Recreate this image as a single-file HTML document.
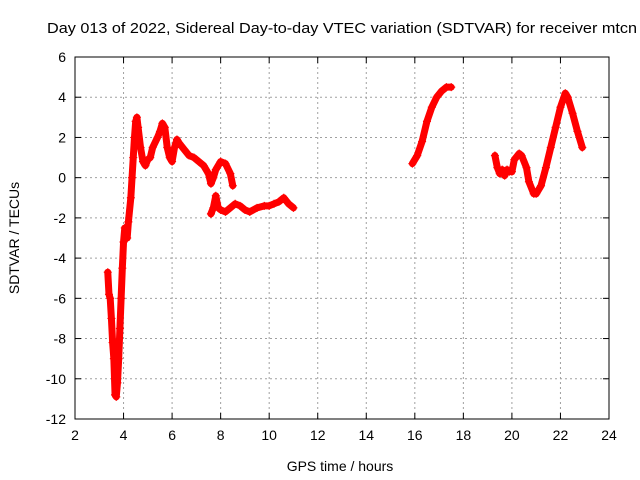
<!DOCTYPE html>
<html><head><meta charset="utf-8"><style>
body{margin:0;background:#fff}
svg{display:block;font-family:"Liberation Sans",sans-serif;font-size:14px}
</style></head><body>
<svg id="chart" width="640" height="480">
<text x="47" y="33" text-anchor="start" font-size="14.5" textLength="590" lengthAdjust="spacingAndGlyphs">Day 013 of 2022, Sidereal Day-to-day VTEC variation (SDTVAR) for receiver mtcn</text>
<text x="340" y="471" text-anchor="middle">GPS time / hours</text>
<text transform="translate(19,238) rotate(-90)" text-anchor="middle">SDTVAR / TECUs</text>
<g id="grid"></g><g id="axes"></g><g id="marks"></g>
<rect x="75" y="57" width="534" height="362" fill="none" stroke="#000"/>
</svg>
<script>
const xTicks=[2,4,6,8,10,12,14,16,18,20,22,24];
const yTicks=[6,4,2,0,-2,-4,-6,-8,-10,-12];
const segA_t=[3.35,3.4,3.45,3.5,3.55,3.6,3.65,3.7,3.75,3.8,3.85,3.9,3.95,4.0,4.05,4.1,4.15,4.2,4.3,4.35,4.4,4.45,4.5,4.55,4.6,4.7,4.8,4.9,5.0,5.1,5.2,5.4,5.5,5.6,5.7,5.8,5.9,6.0,6.1,6.2,6.3,6.5,6.7,6.9,7.1,7.3,7.5,7.6,7.7,7.8,8.0,8.2,8.4,8.5];
const segA_v=[-4.7,-5.8,-6.0,-7,-8.2,-9,-10.8,-10.9,-10.2,-9,-7.5,-6,-4.5,-3.2,-2.5,-2.7,-3.0,-2.2,-1,0,1,2,2.8,3.0,2.5,1.5,0.8,0.6,0.9,1.0,1.5,2,2.3,2.7,2.5,1.5,1.0,0.8,1.5,1.9,1.7,1.4,1.1,1.0,0.8,0.6,0.2,-0.3,0.0,0.4,0.8,0.7,0.2,-0.4];
const segB_t=[7.6,7.7,7.8,7.9,8.0,8.2,8.4,8.6,8.8,9.0,9.2,9.5,9.8,10.0,10.2,10.4,10.6,10.8,11.0];
const segB_v=[-1.8,-1.5,-0.9,-1.5,-1.6,-1.7,-1.5,-1.3,-1.4,-1.6,-1.7,-1.5,-1.4,-1.4,-1.3,-1.2,-1.0,-1.3,-1.5];
const segC_t=[15.9,16.1,16.3,16.5,16.7,16.9,17.1,17.3,17.5];
const segC_v=[0.7,1.1,1.8,2.8,3.5,4.0,4.3,4.5,4.5];
const segD_t=[19.3,19.4,19.5,19.6,19.7,19.8,19.9,20.0,20.1,20.3,20.4,20.6,20.7,20.9,21.0,21.2,21.4,21.6,21.8,22.0,22.2,22.3,22.5,22.7,22.9];
const segD_v=[1.1,0.5,0.2,0.4,0.1,0.4,0.3,0.3,0.9,1.2,1.1,0.5,-0.2,-0.8,-0.8,-0.4,0.5,1.5,2.5,3.5,4.2,4.0,3.2,2.3,1.5];
const X0=75,X1=609,Y0=57,Y1=419;
const xs=v=>X0+(v-2)/22*(X1-X0);
const ys=v=>Y0+(6-v)/18*(Y1-Y0);
const NS="http://www.w3.org/2000/svg";
function mk(tag,attrs,parent){const e=document.createElementNS(NS,tag);for(const k in attrs)e.setAttribute(k,attrs[k]);parent.appendChild(e);return e;}
const grid=document.getElementById('grid'),axes=document.getElementById('axes'),marks=document.getElementById('marks');
xTicks.forEach(t=>{const x=xs(t);
 if(t>2&&t<24){const g=mk('line',{x1:x,x2:x,y1:Y0,y2:Y1,stroke:'#a0a0a0','stroke-dasharray':'2,3'},grid);
 
 }
 mk('line',{x1:x,x2:x,y1:Y1,y2:Y1-6,stroke:'#000'},axes);mk('line',{x1:x,x2:x,y1:Y0,y2:Y0+6,stroke:'#000'},axes);
 const l=mk('text',{x:x,y:Y1+21,'text-anchor':'middle'},axes);l.textContent=t;
 
 });
yTicks.forEach(t=>{const y=ys(t);
 if(t<6&&t>-12){const g=mk('line',{x1:X0,x2:X1,y1:y,y2:y,stroke:'#a0a0a0','stroke-dasharray':'2,3'},grid);
 
 }
 mk('line',{x1:X0,x2:X0+6,y1:y,y2:y,stroke:'#000'},axes);mk('line',{x1:X1,x2:X1-6,y1:y,y2:y,stroke:'#000'},axes);
 const l=mk('text',{x:X0-9,y:y+5,'text-anchor':'end'},axes);l.textContent=t;
 
 });
[[segA_t,segA_v],[segB_t,segB_v],[segC_t,segC_v],[segD_t,segD_v]].forEach(([T,V])=>{
 const pts=T.map((t,i)=>xs(t)+','+ys(V[i])).join(' ');
 const pl=mk('polyline',{points:pts,fill:'none',stroke:'#f00','stroke-width':7,'stroke-linejoin':'round','stroke-linecap':'round'},marks);
 
 
 T.forEach((t,i)=>{const x=xs(t),y=ys(V[i]);
  const p=mk('path',{d:`M${x-4},${y}h8M${x},${y-4}v8`,stroke:'#f00','stroke-width':1.2},marks);
  
  });
});
</script>
</body></html>
